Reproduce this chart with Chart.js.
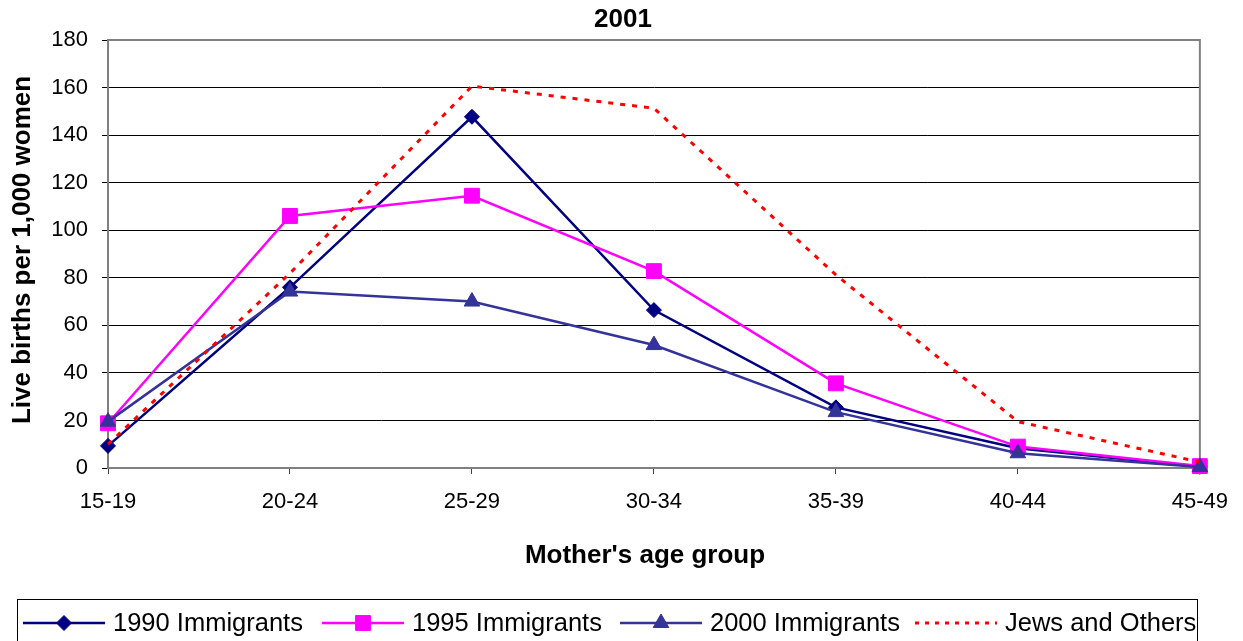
<!DOCTYPE html>
<html><head><meta charset="utf-8">
<script src="https://cdn.jsdelivr.net/npm/chart.js@4/dist/chart.umd.min.js"></script>
<style>html,body{margin:0;padding:0;background:#fff}#wrap{width:1243px;height:641px;position:relative}</style>
</head><body><div id="wrap"><canvas id="c" width="1243" height="641"></canvas></div>
<script>
const chartTitle = '2001';
const xTitle = "Mother's age group";
const yTitle = 'Live births per 1,000 women';
const categories = ['15-19', '20-24', '25-29', '30-34', '35-39', '40-44', '45-49'];
const seriesNames = ['1990 Immigrants', '1995 Immigrants', '2000 Immigrants', 'Jews and Others'];
const imm1990 = [9.3, 76, 147.7, 66.4, 25.5, 8.3, 0.5];
const imm1995 = [18.8, 106, 114.5, 82.8, 35.6, 9, 0.8];
const imm2000 = [19.5, 74.2, 70, 51.7, 23.5, 6.2, 0.4];
const jewsOthers = [10, 81.9, 160.6, 151.3, 81.2, 19.5, 2.5];
const yMin = 0, yMax = 180, yStep = 20;

const FONT = "'Liberation Sans', Arial, sans-serif";
const styles = [
  {color: '#000080', pointStyle: 'rectRot', radius: 7.5, dash: [], width: 2.5},
  {color: '#FF00FF', pointStyle: 'rect', radius: 10.5, dash: [], width: 2.5},
  {color: '#333399', pointStyle: 'triangle', radius: 9, dash: [], width: 2.5},
  {color: '#FF0000', pointStyle: false, radius: 0, dash: [5, 7], width: 3}
];
const seriesData = [imm1990, imm1995, imm2000, jewsOthers];

const datasets = seriesData.map((d, i) => ({
  label: seriesNames[i],
  data: d,
  borderColor: styles[i].color,
  backgroundColor: styles[i].color,
  borderWidth: styles[i].width,
  borderDash: styles[i].dash,
  pointStyle: styles[i].pointStyle,
  pointRadius: styles[i].radius,
  pointHoverRadius: styles[i].radius,
  pointBorderWidth: 1,
  tension: 0,
  clip: false,
  order: 3 - i
}));

const legendItemX = [23, 322, 620, 915];

const decor = {
  id: 'decor',
  beforeDatasetsDraw(chart) {
    const {ctx, chartArea: a} = chart;
    ctx.save();
    ctx.strokeStyle = '#808080';
    ctx.lineWidth = 2;
    ctx.beginPath();
    ctx.moveTo(a.left, a.top);
    ctx.lineTo(a.right, a.top);
    ctx.lineTo(a.right, a.bottom);
    ctx.stroke();
    ctx.restore();
  },
  afterDraw(chart) {
    const {ctx} = chart;
    ctx.save();
    ctx.fillStyle = '#000';
    ctx.font = 'bold 26px ' + FONT;
    ctx.textAlign = 'center';
    ctx.textBaseline = 'middle';
    // chart title
    ctx.fillText(chartTitle, 623, 20);
    // x axis title
    ctx.fillText(xTitle, 645, 556);
    // y axis title
    ctx.save();
    ctx.translate(23, 250);
    ctx.rotate(-Math.PI / 2);
    ctx.fillText(yTitle, 0, 0);
    ctx.restore();
    // legend box
    ctx.strokeStyle = '#000';
    ctx.lineWidth = 1;
    ctx.strokeRect(17.5, 599.5, 1180, 60);
    const ly = 623;
    ctx.font = '25.5px ' + FONT;
    ctx.textAlign = 'left';
    seriesNames.forEach((name, i) => {
      const x0 = legendItemX[i];
      const st = styles[i];
      ctx.save();
      ctx.strokeStyle = st.color;
      ctx.lineWidth = i === 3 ? 3 : 2.5;
      ctx.setLineDash(i === 3 ? [4, 6] : []);
      ctx.beginPath();
      ctx.moveTo(x0, ly);
      ctx.lineTo(x0 + 82, ly);
      ctx.stroke();
      ctx.restore();
      if (st.pointStyle) {
        ctx.save();
        ctx.fillStyle = st.color;
        ctx.strokeStyle = st.color;
        ctx.lineWidth = 1;
        Chart.helpers.drawPoint(ctx, {pointStyle: st.pointStyle, radius: st.radius, rotation: 0, borderWidth: 1}, x0 + 41, ly);
        ctx.restore();
      }
      ctx.fillStyle = '#000';
      ctx.fillText(name, x0 + 90, ly + 1);
    });
    ctx.restore();
  }
};

new Chart(document.getElementById('c'), {
  type: 'line',
  data: {labels: categories, datasets},
  options: {
    responsive: false,
    animation: false,
    devicePixelRatio: 1,
    layout: {padding: {left: 0, right: 43, top: 40, bottom: 69}},
    plugins: {legend: {display: false}, title: {display: false}, tooltip: {enabled: false}},
    scales: {
      x: {
        type: 'category',
        offset: false,
        afterFit: s => { s.height = 104; },
        grid: {display: true, drawOnChartArea: false, drawTicks: true, tickLength: 6, color: '#404040', lineWidth: 1},
        border: {display: true, color: '#808080', width: 2},
        ticks: {font: {family: FONT, size: 22}, color: '#000', padding: 15, maxRotation: 0, autoSkip: false},
        title: {display: false}
      },
      y: {
        min: yMin, max: yMax,
        afterFit: s => { s.width = 108; },
        grid: {color: '#000', lineWidth: 1, tickLength: 6, drawTicks: true},
        border: {display: true, color: '#808080', width: 2},
        ticks: {stepSize: yStep, font: {family: FONT, size: 22}, color: '#000', padding: 14},
        title: {display: false}
      }
    }
  },
  plugins: [decor]
});
</script>
</body></html>
